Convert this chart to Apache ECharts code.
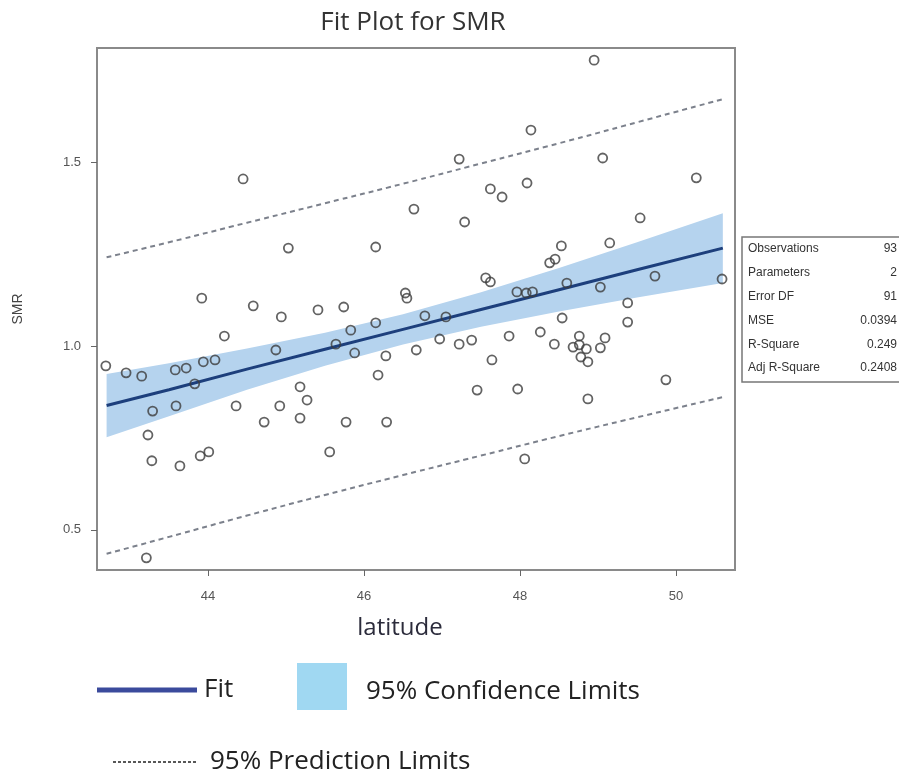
<!DOCTYPE html>
<html>
<head>
<meta charset="utf-8">
<title>Fit Plot for SMR</title>
<script src="https://cdn.jsdelivr.net/npm/echarts@6/dist/echarts.min.js"></script>
<style>
  html, body { margin: 0; padding: 0; background: #fff; }
  #chart { width: 899px; height: 774px; }
</style>
</head>
<body>
<div id="chart"></div>
<script>
// observations (latitude, SMR)
var latitude = [
  42.69, 42.95, 43.15, 43.23, 43.29, 43.28, 43.21, 43.59, 43.58, 43.72,
  43.64, 43.83, 43.90, 43.94, 43.92, 44.01, 44.09, 44.21, 44.36, 44.45,
  44.58, 44.72, 44.87, 44.92, 44.94, 45.03, 45.18, 45.18, 45.27, 45.41,
  45.56, 45.64, 45.74, 45.77, 45.83, 45.88, 46.15, 46.15, 46.18, 46.28,
  46.29, 46.53, 46.55, 46.64, 46.67, 46.78, 46.97, 47.05, 47.22, 47.22,
  47.29, 47.38, 47.45, 47.56, 47.62, 47.62, 47.64, 47.77, 47.86, 47.97,
  47.96, 48.09, 48.08, 48.14, 48.16, 48.06, 48.26, 48.38, 48.45, 48.44,
  48.53, 48.54, 48.60, 48.68, 48.76, 48.76, 48.78, 48.85, 48.87, 48.87,
  48.95, 49.09, 49.03, 49.06, 49.03, 49.15, 49.38, 49.38, 49.54, 49.73,
  49.87, 50.26, 50.59
];
var smr = [
  0.946, 0.927, 0.918, 0.758, 0.823, 0.688, 0.424, 0.837, 0.935, 0.940,
  0.674, 0.897, 0.701, 0.957, 1.130, 0.712, 0.962, 1.027, 0.837, 1.454,
  1.109, 0.793, 0.989, 0.837, 1.079, 1.266, 0.889, 0.804, 0.853, 1.098,
  0.712, 1.005, 1.106, 0.793, 1.043, 0.981, 1.269, 1.063, 0.921, 0.973,
  0.793, 1.144, 1.130, 1.372, 0.989, 1.082, 1.019, 1.079, 1.508, 1.005,
  1.337, 1.016, 0.880, 1.185, 1.174, 1.427, 0.962, 1.405, 1.027, 0.883,
  1.147, 1.443, 1.144, 1.587, 1.147, 0.693, 1.038, 1.226, 1.236, 1.005,
  1.272, 1.076, 1.171, 0.997, 1.027, 1.003, 0.970, 0.992, 0.957, 0.856,
  1.777, 1.022, 1.160, 1.511, 0.995, 1.280, 1.117, 1.065, 1.348, 1.190,
  0.908, 1.457, 1.182
];

// fit line and limits, read at these latitudes
var bandX   = [42.7, 43.5, 44.5, 45.5, 46.5, 47.5, 48.5, 49.5, 50.6];
var fitY    = [0.838, 0.881, 0.937, 0.991, 1.045, 1.099, 1.153, 1.207, 1.266];
var clLower = [0.752, 0.809, 0.881, 0.946, 1.004, 1.052, 1.094, 1.132, 1.171];
var clUpper = [0.924, 0.953, 0.993, 1.036, 1.086, 1.146, 1.212, 1.282, 1.361];
var plLower = [0.435, 0.481, 0.539, 0.595, 0.649, 0.702, 0.755, 0.806, 0.861];
var plUpper = [1.241, 1.282, 1.335, 1.388, 1.441, 1.496, 1.551, 1.608, 1.671];

// tick labels
var xTicks = [44, 46, 48, 50];
var yTicks = [0.5, 1.0, 1.5];

// fit statistics
var statLabels = ['Observations', 'Parameters', 'Error DF', 'MSE', 'R-Square', 'Adj R-Square'];
var statValues = ['93', '2', '91', '0.0394', '0.249', '0.2408'];

var FONT = '"Open Sans", Lato, sans-serif';
var SMALL = '"Liberation Sans", Arial, sans-serif';

function zip(xs, ys) {
  return xs.map(function (x, i) { return [x, ys[i]]; });
}

var chart = echarts.init(document.getElementById('chart'));

// statistics box
var statGraphics = [{
  type: 'rect',
  shape: { x: 742, y: 237, width: 170, height: 145 },
  style: { fill: '#fff', stroke: '#777', lineWidth: 1.5 }
}];
statLabels.forEach(function (lab, i) {
  var yy = 249 + i * 23.8;
  statGraphics.push({
    type: 'text', x: 748, y: yy,
    style: { text: lab, fill: '#333', font: '12px ' + SMALL, verticalAlign: 'middle' }
  });
  statGraphics.push({
    type: 'text', x: 897, y: yy,
    style: { text: statValues[i], fill: '#333', font: '12px ' + SMALL, align: 'right', verticalAlign: 'middle' }
  });
});

// legend under the plot
var legendGraphics = [
  { type: 'line', shape: { x1: 97, y1: 690, x2: 197, y2: 690 }, style: { stroke: '#3b4a9c', lineWidth: 5 } },
  { type: 'text', x: 204, y: 690, style: { text: 'Fit', fill: '#222', font: '26px ' + FONT, verticalAlign: 'middle' } },
  { type: 'rect', shape: { x: 297, y: 663, width: 50, height: 47 }, style: { fill: '#a0d8f2' } },
  { type: 'text', x: 366, y: 692, style: { text: '95% Confidence Limits', fill: '#222', font: '26px ' + FONT, verticalAlign: 'middle' } },
  { type: 'line', shape: { x1: 113, y1: 762, x2: 197, y2: 762 }, style: { stroke: '#222', lineWidth: 1.5, lineDash: [3, 2] } },
  { type: 'text', x: 210, y: 762, style: { text: '95% Prediction Limits', fill: '#222', font: '26px ' + FONT, verticalAlign: 'middle' } }
];

var option = {
  backgroundColor: '#fff',
  animation: false,
  title: {
    text: 'Fit Plot for SMR',
    left: 408,
    top: 5,
    textAlign: 'center',
    textStyle: { fontFamily: FONT, fontSize: 26, fontWeight: 'normal', color: '#333' }
  },
  grid: {
    left: 97, top: 48, width: 638, height: 522,
    show: true, borderColor: '#8a8a8a', borderWidth: 2, backgroundColor: '#fff'
  },
  xAxis: {
    type: 'value',
    min: 42.577, max: 50.756,
    name: 'latitude',
    nameLocation: 'middle',
    nameGap: 46,
    nameTextStyle: { fontFamily: FONT, fontSize: 24, color: '#2b2b3b', padding: [0, 32, 0, 0] },
    axisLine: { show: false },
    splitLine: { show: false },
    axisTick: { show: true, length: 6, customValues: xTicks, lineStyle: { color: '#666' } },
    axisLabel: { customValues: xTicks, margin: 20, fontSize: 13, color: '#555', fontFamily: SMALL }
  },
  yAxis: {
    type: 'value',
    min: 0.391, max: 1.81,
    name: 'SMR',
    nameLocation: 'middle',
    nameGap: 72,
    nameTextStyle: { fontSize: 14, color: '#444', fontFamily: SMALL },
    axisLine: { show: false },
    splitLine: { show: false },
    axisTick: { show: true, length: 6, customValues: yTicks, lineStyle: { color: '#666' } },
    axisLabel: {
      customValues: yTicks, margin: 16, fontSize: 13, color: '#555',
      fontFamily: SMALL,
      formatter: function (v) { return v.toFixed(1); }
    }
  },
  series: [
    {
      name: '95% Confidence Limits',
      type: 'custom',
      z: 1,
      silent: true,
      data: [0],
      renderItem: function (params, api) {
        var pts = [];
        for (var i = 0; i < bandX.length; i++) pts.push(api.coord([bandX[i], clUpper[i]]));
        for (var j = bandX.length - 1; j >= 0; j--) pts.push(api.coord([bandX[j], clLower[j]]));
        return { type: 'polygon', shape: { points: pts }, style: { fill: '#b5d3ee' } };
      }
    },
    {
      name: '95% Prediction Limits',
      type: 'line',
      z: 2,
      data: zip(bandX, plUpper),
      symbol: 'none',
      smooth: true,
      lineStyle: { color: '#7c818c', width: 2, type: [5, 4] }
    },
    {
      name: '95% Prediction Limits',
      type: 'line',
      z: 2,
      data: zip(bandX, plLower),
      symbol: 'none',
      smooth: true,
      lineStyle: { color: '#7c818c', width: 2, type: [5, 4] }
    },
    {
      name: 'Fit',
      type: 'line',
      z: 3,
      data: zip(bandX, fitY),
      symbol: 'none',
      lineStyle: { color: '#1d3f7c', width: 3 }
    },
    {
      name: 'SMR',
      type: 'scatter',
      z: 4,
      data: zip(latitude, smr),
      symbol: 'circle',
      symbolSize: 9,
      itemStyle: { color: 'rgba(0,0,0,0)', borderColor: '#3c3c3c', borderWidth: 1.8 }
    }
  ],
  graphic: statGraphics.concat(legendGraphics)
};

chart.setOption(option);
</script>
</body>
</html>
